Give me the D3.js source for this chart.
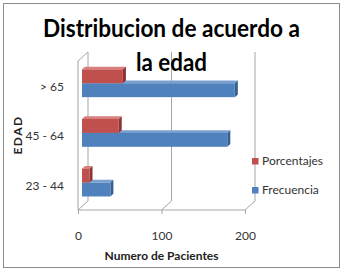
<!DOCTYPE html>
<html>
<head>
<meta charset="utf-8">
<script src="https://cdnjs.cloudflare.com/ajax/libs/d3/7.8.5/d3.min.js"></script>
<style>
  body { margin: 0; background: #fff; }
  text { font-family: Lato, "Open Sans", sans-serif; }
</style>
</head>
<body>
<div id="chart"></div>
<script>
// data
var categories = ["> 65", "45 - 64", "23 - 44"];
var seriesNames = ["Porcentajes", "Frecuencia"];
var porcentajes = [49, 44, 9];
var frecuencia = [183, 174, 34];
var xTicks = [0, 100, 200];

var colors = {
  Porcentajes: {front: "#c0504d", top: "#d9807d", side: "#8c3532"},
  Frecuencia: {front: "#4f81bd", top: "#7aa0d0", side: "#345f91"}
};

var W = 341, H = 273;
var svg = d3.select("#chart").append("svg").attr("width", W).attr("height", H);

// outer frame
svg.append("rect").attr("x", 3.5).attr("y", 3.5).attr("width", 336).attr("height", 264)
  .attr("fill", "#fff").attr("stroke", "#8c8c8c");

// scales (front plane)
var xs = d3.scaleLinear().domain([0, 200]).range([78, 245]);
var ys = d3.scaleBand().domain(categories).range([62, 211]).paddingInner(0.44).paddingOuter(0.22);
var ysub = d3.scaleBand().domain(seriesNames).range([0, ys.bandwidth()]);

// depth of the 3d box
var DX = 10, DY = -9;
var yTop = 61, yBot = 210;
var wall = svg.append("g").attr("stroke", "#a6a6a6").attr("fill", "none");

// back wall gridlines
wall.selectAll(".grid").data(xTicks).enter().append("line")
  .attr("x1", function(d) { return xs(d) + DX; })
  .attr("x2", function(d) { return xs(d) + DX; })
  .attr("y1", yTop + DY).attr("y2", yBot + DY);
// floor diagonals
wall.selectAll(".diag").data(xTicks).enter().append("line")
  .attr("x1", function(d) { return xs(d); })
  .attr("x2", function(d) { return xs(d) + DX; })
  .attr("y1", yBot).attr("y2", yBot + DY);
// left side wall
wall.append("path")
  .attr("d", "M" + xs(0) + "," + yBot + "V" + yTop + "L" + (xs(0) + DX) + "," + (yTop + DY));

// bars
var bdx = 4, bdy = -3.6, d = 3, dd = -2.7;
var rows = categories.map(function(c, i) {
  return {cat: c, Porcentajes: porcentajes[i], Frecuencia: frecuencia[i]};
});

var bars = svg.append("g").attr("class", "bars");
["Frecuencia", "Porcentajes"].forEach(function(s) {
  rows.forEach(function(r) {
    var x0 = xs(0) + bdx, x1 = xs(r[s]) + bdx;
    var y0 = ys(r.cat) + ysub(s) + bdy, h = ysub.bandwidth();
    var g = bars.append("g");
    g.append("polygon").attr("fill", colors[s].top)
      .attr("points", [[x0, y0], [x0 + d, y0 + dd], [x1 + d, y0 + dd], [x1, y0]].join(" "));
    g.append("polygon").attr("fill", colors[s].side)
      .attr("points", [[x1, y0], [x1 + d, y0 + dd], [x1 + d, y0 + h + dd], [x1, y0 + h]].join(" "));
    g.append("rect").attr("x", x0).attr("y", y0).attr("width", x1 - x0).attr("height", h)
      .attr("fill", colors[s].front);
  });
});

// x axis
var xAxis = d3.axisBottom(xs).tickValues(xTicks).tickSize(4).tickPadding(17);
var gx = svg.append("g").attr("transform", "translate(0," + yBot + ")").call(xAxis);
gx.select(".domain").attr("stroke", "#a6a6a6").attr("d", "M" + xs(0) + ",0H" + xs(200));
gx.selectAll(".tick line").attr("stroke", "#a6a6a6");
gx.selectAll("text").attr("font-size", 12).attr("fill", "#333").style("font-family", "Lato");

// y axis
var yAxis = d3.axisLeft(ys).tickSize(0).tickPadding(14);
var gy = svg.append("g").attr("transform", "translate(" + xs(0) + ",0)").call(yAxis);
gy.select(".domain").remove();
gy.selectAll("text").attr("font-size", 12).attr("fill", "#333").style("font-family", "Lato");

// titles
svg.append("text").attr("x", 171.5).attr("y", 37).attr("text-anchor", "middle")
  .attr("font-size", 25).attr("font-weight", "bold").attr("fill", "#000")
  .attr("textLength", 257).attr("lengthAdjust", "spacingAndGlyphs")
  .text("Distribucion de acuerdo a");
svg.append("text").attr("x", 171.5).attr("y", 71).attr("text-anchor", "middle")
  .attr("font-size", 25).attr("font-weight", "bold").attr("fill", "#000")
  .attr("textLength", 71).attr("lengthAdjust", "spacingAndGlyphs")
  .text("la edad");

svg.append("text").attr("x", 161.5).attr("y", 260).attr("text-anchor", "middle")
  .attr("font-size", 12).attr("font-weight", "bold").attr("fill", "#222")
  .text("Numero de Pacientes");

svg.append("text").attr("transform", "translate(22,135) rotate(-90)").attr("text-anchor", "middle")
  .attr("font-size", 12).attr("font-weight", "bold").attr("fill", "#222")
  .attr("letter-spacing", 1.5)
  .text("EDAD");

// legend
var legend = svg.append("g").attr("transform", "translate(252,158)");
seriesNames.forEach(function(s, i) {
  var lg = legend.append("g").attr("transform", "translate(0," + (i * 29) + ")");
  lg.append("rect").attr("width", 6.5).attr("height", 6.5).attr("fill", colors[s].front);
  lg.append("text").attr("x", 10).attr("y", 7).attr("font-size", 12).attr("fill", "#333").text(s);
});
</script>
</body>
</html>
